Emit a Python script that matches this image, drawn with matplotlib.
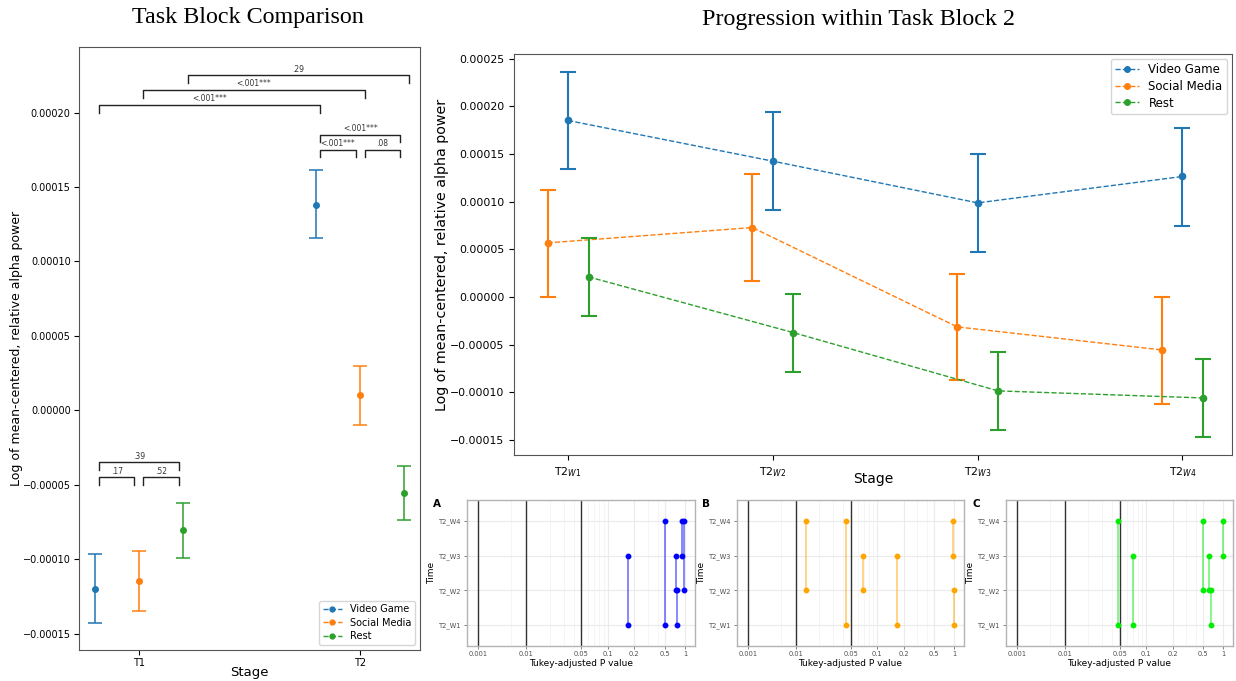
import numpy as np
import matplotlib
matplotlib.use("Agg")
import matplotlib.pyplot as plt
from matplotlib.lines import Line2D

# ---- data ----
groups = ["Video Game", "Social Media", "Rest"]
colors = ["#1f77b4", "#ff7f0e", "#2ca02c"]

# task block comparison (T1, T2)
block_stages = ["T1", "T2"]
vg_block = [-0.000120, 0.000138]
vg_block_lo = [-0.000143, 0.0001155]
vg_block_hi = [-0.0000965, 0.0001614]
sm_block = [-0.0001146, 0.000010]
sm_block_lo = [-0.000135, -0.000010]
sm_block_hi = [-0.0000942, 0.000030]
rest_block = [-0.0000806, -0.0000555]
rest_block_lo = [-0.0000992, -0.0000739]
rest_block_hi = [-0.0000622, -0.0000371]

# pairwise p labels: (group_a, stage_a, group_b, stage_b, level, label)
block_pvals = [
    (0, 0, 1, 0, -0.000045, ".17"),
    (1, 0, 2, 0, -0.000045, ".52"),
    (0, 0, 2, 0, -0.000035, ".39"),
    (0, 1, 1, 1, 0.000175, "<.001***"),
    (1, 1, 2, 1, 0.000175, ".08"),
    (0, 1, 2, 1, 0.000185, "<.001***"),
    (0, 0, 0, 1, 0.000205, "<.001***"),
    (1, 0, 1, 1, 0.000215, "<.001***"),
    (2, 0, 2, 1, 0.000225, ".29"),
]

# progression within task block 2
weeks = ["T2$_{W1}$", "T2$_{W2}$", "T2$_{W3}$", "T2$_{W4}$"]
vg_week = [0.0001852, 0.0001425, 0.0000987, 0.0001264]
vg_week_lo = [0.0001341, 0.0000914, 0.0000473, 0.0000749]
vg_week_hi = [0.0002363, 0.0001943, 0.0001502, 0.0001775]
sm_week = [0.0000567, 0.0000728, -0.0000315, -0.0000557]
sm_week_lo = [0.0, 0.0000171, -0.0000872, -0.000112]
sm_week_hi = [0.0001117, 0.0001285, 0.0000242, 0.0]
rest_week = [0.000021, -0.0000375, -0.0000987, -0.0001061]
rest_week_lo = [-0.00002, -0.0000785, -0.0001397, -0.000147]
rest_week_hi = [0.000062, 0.0000032, -0.0000581, -0.0000654]

# Tukey pairwise p values per group: (time_a, time_b, p)
time_levels = ["T2_W1", "T2_W2", "T2_W3", "T2_W4"]
pw_vg = [(0, 2, 0.17), (0, 3, 0.50), (1, 2, 0.72), (0, 1, 0.75), (2, 3, 0.91), (1, 3, 0.97)]
pw_sm = [(1, 3, 0.0135), (0, 3, 0.0436), (1, 2, 0.069), (0, 2, 0.168), (2, 3, 0.95), (0, 1, 0.99)]
pw_rest = [(0, 3, 0.048), (0, 2, 0.07), (1, 3, 0.50), (1, 2, 0.61), (0, 1, 0.65), (2, 3, 1.0)]
pw_colors = ["#0000ff", "#ffa500", "#00ee00"]
p_ticks = [0.001, 0.01, 0.05, 0.1, 0.2, 0.5, 1]
p_tick_labels = ["0.001", "0.01", "0.05", "0.1", "0.2", "0.5", "1"]
p_minor = [0.005, 0.02, 0.03, 0.04, 0.06, 0.07, 0.08, 0.09, 0.3, 0.4]
p_lines = [0.001, 0.01, 0.05]

fig = plt.figure(figsize=(12.36, 6.81), dpi=100)
W, H = 1236.0, 681.0


def box(l, t, r, b):
    return [l / W, 1 - b / H, (r - l) / W, (b - t) / H]


def fmt_tick(v, pos):
    return f"{v:.5f}".replace("-", "\u2212")


spine_col = "#555555"

# ---------------- left panel ----------------
ax1 = fig.add_axes(box(79, 47, 420, 650))
offsets = [-0.2, 0.0, 0.2]
block_sets = [(vg_block, vg_block_lo, vg_block_hi),
              (sm_block, sm_block_lo, sm_block_hi),
              (rest_block, rest_block_lo, rest_block_hi)]
xb = np.arange(len(block_stages))
for i, (m, lo, hi) in enumerate(block_sets):
    m, lo, hi = np.array(m), np.array(lo), np.array(hi)
    ax1.errorbar(xb + offsets[i], m, yerr=[m - lo, hi - m], fmt="o", color=colors[i],
                 ms=4, elinewidth=1.1, capsize=5, capthick=1.1)

for ga, sa, gb, sb, lev, lab in block_pvals:
    x1 = xb[sa] + offsets[ga] + 0.02
    x2 = xb[sb] + offsets[gb] - 0.02
    if ga == gb:
        x2 = xb[sb] + offsets[gb] + 0.02
    h = 0.000005
    ax1.plot([x1, x1, x2, x2], [lev - h, lev, lev, lev - h], color="#222222", lw=1)
    ax1.text((x1 + x2) / 2, lev + 0.0000012, lab, ha="center", va="bottom", fontsize=5.5,
             color="#333333")

ax1.set_xlim(-0.27, 1.27)
ax1.set_ylim(-0.000161, 0.000244)
ax1.set_xticks(xb)
ax1.set_xticklabels(block_stages)
ax1.set_yticks([-0.00015, -0.0001, -0.00005, 0, 0.00005, 0.0001, 0.00015, 0.0002])
ax1.yaxis.set_major_formatter(matplotlib.ticker.FuncFormatter(fmt_tick))
ax1.tick_params(labelsize=7, pad=2.5)
ax1.set_xlabel("Stage", fontsize=9.5)
ax1.xaxis.set_label_coords(0.5, -0.026)
ax1.set_ylabel("Log of mean-centered, relative alpha power", fontsize=9)
ax1.yaxis.set_label_coords(-0.164, 0.5)
for s in ax1.spines.values():
    s.set_color(spine_col)
handles = [Line2D([], [], color=c, ls="--", marker="o", ms=3.5, lw=1) for c in colors]
ax1.legend(handles, groups, loc="lower right", fontsize=7, labelspacing=0.35)
fig.text(248 / W, 1 - 18 / H, "Task Block Comparison", ha="center", va="center",
         fontsize=17.3, family="Liberation Serif")

# ---------------- right panel ----------------
ax2 = fig.add_axes(box(514, 54, 1232, 455))
week_sets = [(vg_week, vg_week_lo, vg_week_hi),
             (sm_week, sm_week_lo, sm_week_hi),
             (rest_week, rest_week_lo, rest_week_hi)]
week_offsets = [0.0, -0.1, 0.1]
xw = np.arange(len(weeks))
for i, (m, lo, hi) in enumerate(week_sets):
    m, lo, hi = np.array(m), np.array(lo), np.array(hi)
    ax2.errorbar(xw + week_offsets[i], m, yerr=[m - lo, hi - m], fmt="o", color=colors[i],
                 ms=4.5, elinewidth=1.5, capsize=6, capthick=1.5, label=groups[i])
    ax2.plot(xw + week_offsets[i], m, ls="--", color=colors[i], lw=1)
ax2.set_xlim(-0.264, 3.242)
ax2.set_ylim(-0.000166, 0.000255)
ax2.set_xticks(xw)
ax2.set_xticklabels(weeks)
ax2.set_yticks([-0.00015, -0.0001, -0.00005, 0, 0.00005, 0.0001, 0.00015, 0.0002, 0.00025])
ax2.yaxis.set_major_formatter(matplotlib.ticker.FuncFormatter(fmt_tick))
ax2.tick_params(labelsize=7.8)
ax2.set_xlabel("Stage", fontsize=10)
ax2.xaxis.set_label_coords(0.5, -0.042)
ax2.set_ylabel("Log of mean-centered, relative alpha power", fontsize=10.3)
ax2.yaxis.set_label_coords(-0.09, 0.5)
for s in ax2.spines.values():
    s.set_color(spine_col)
handles = [Line2D([], [], color=c, ls="--", marker="o", ms=4, lw=1) for c in colors]
ax2.legend(handles, groups, loc="upper right", fontsize=8.5, labelspacing=0.3,
           borderaxespad=0.4)
fig.text(858 / W, 1 - 20 / H, "Progression within Task Block 2", ha="center", va="center",
         fontsize=17.3, family="Liberation Serif")

# ---------------- bottom pwpp panels ----------------
lp_anchor = [-4, -3, -2, np.log10(0.05), -1, np.log10(0.2), np.log10(0.5), 0, np.log10(2)]
px_anchor = [-37, 11, 59.3, 114.6, 141, 167.6, 198.3, 218.3, 238.3]


def p_fwd(x):
    x = np.clip(np.asarray(x, dtype=float), 1e-12, None)
    return np.interp(np.log10(x), lp_anchor, px_anchor)


def p_inv(y):
    return 10 ** np.interp(np.asarray(y, dtype=float), px_anchor, lp_anchor)


panels = [(466.7, 695, pw_vg, "A", 437), (736.7, 964, pw_sm, "B", 706),
          (1005.7, 1233, pw_rest, "C", 976)]
for k, (l, r, pw, lab, lx) in enumerate(panels):
    ax = fig.add_axes(box(l, 500, r, 646))
    ax.set_xscale("function", functions=(p_fwd, p_inv))
    ax.set_xlim(float(p_inv(0)), float(p_inv(228.3)))
    ax.set_ylim(-0.6, 3.6)
    ax.set_xticks(p_ticks)
    ax.set_xticklabels(p_tick_labels)
    ax.set_xticks(p_minor, minor=True)
    ax.set_yticks(range(4))
    ax.set_yticklabels(time_levels)
    ax.grid(True, which="major", color="#ebebeb", lw=0.8)
    ax.grid(True, which="minor", axis="x", color="#f2f2f2", lw=0.5)
    ax.set_axisbelow(True)
    ax.tick_params(which="major", labelsize=4.8, colors="#4d4d4d", length=2, width=0.5, pad=1.5)
    ax.tick_params(which="minor", length=0)
    for v in p_lines:
        ax.axvline(v, color="#333333", lw=1)
    for a, b, p in pw:
        ax.plot([p, p], [a, b], color=pw_colors[k], lw=1.2, alpha=0.55)
        ax.plot([p, p], [a, b], ls="none", marker="o", ms=3.2, color=pw_colors[k])
    for s in ax.spines.values():
        s.set_color("#b3b3b3")
        s.set_linewidth(1)
    ax.set_xlabel("Tukey-adjusted P value", fontsize=6.5, labelpad=1.5)
    ax.set_ylabel("Time", fontsize=6.5, labelpad=2)
    fig.text(lx / W, 1 - 504 / H, lab, fontsize=7.5, fontweight="bold", ha="center", va="center")

fig.savefig("out.png", dpi=100)
